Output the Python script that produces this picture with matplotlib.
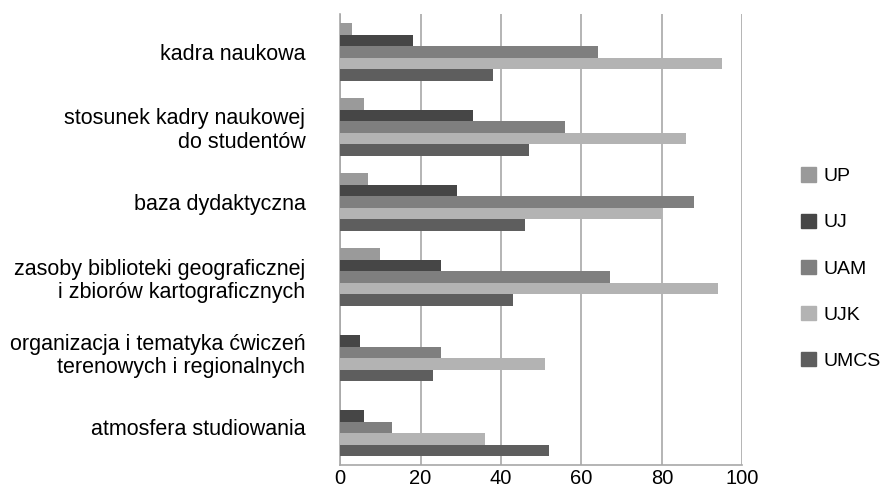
import numpy as np
import matplotlib
matplotlib.use("Agg")
import matplotlib.pyplot as plt
from matplotlib.patches import Patch

plt.rcParams["font.family"] = ["Liberation Sans", "DejaVu Sans"]

# Dane
categories = [
    "kadra naukowa",
    "stosunek kadry naukowej\ndo studentów",
    "baza dydaktyczna",
    "zasoby biblioteki geograficznej\ni zbiorów kartograficznych",
    "organizacja i tematyka ćwiczeń\nterenowych i regionalnych",
    "atmosfera studiowania",
]
series_names = ["UP", "UJ", "UAM", "UJK", "UMCS"]
up = [3, 6, 7, 10, 0, 0]
uj = [18, 33, 29, 25, 5, 6]
uam = [64, 56, 88, 67, 25, 13]
ujk = [95, 86, 80, 94, 51, 36]
umcs = [38, 47, 46, 43, 23, 52]
x_ticks = [0, 20, 40, 60, 80, 100]

colors = ["#9a9a9a", "#464646", "#7f7f7f", "#b3b3b3", "#5e5e5e"]

fig = plt.figure(figsize=(8.88, 4.92), dpi=100)
ax = fig.add_axes([0.383, 0.055, 0.453, 0.916])

n = len(categories)
y = np.arange(n)[::-1].astype(float)
bar_h = 0.153
all_vals = [up, uj, uam, ujk, umcs]
for i, (vals, col) in enumerate(zip(all_vals, colors)):
    offs = (2 - i) * bar_h
    ax.barh(y + offs, vals, height=bar_h, color=col, edgecolor="none", zorder=3)

ax.set_xlim(0, 100)
ax.set_ylim(-0.5, n - 0.5)
ax.set_xticks(x_ticks)
ax.set_yticks(y)
ax.set_yticklabels(categories, fontsize=15.5, ha="right", multialignment="right",
                   linespacing=1.15)
ax.tick_params(axis="x", labelsize=14.5, length=0, pad=3)
ax.tick_params(axis="y", length=0, pad=25)
ax.grid(axis="x", color="#a8a8a8", linewidth=1.2, zorder=0)
for s in ["top", "right"]:
    ax.spines[s].set_visible(False)
ax.spines["left"].set_color("#a8a8a8")
ax.spines["bottom"].set_color("#a8a8a8")
ax.spines["left"].set_linewidth(1.2)
ax.spines["bottom"].set_linewidth(1.2)

handles = [Patch(color=c, label=s) for c, s in zip(colors, series_names)]
fig.legend(handles=handles, loc="center left", bbox_to_anchor=(0.887, 0.454),
           frameon=False, fontsize=14, labelspacing=1.45, borderpad=0.2,
           handlelength=0.75, handleheight=0.75, handletextpad=0.4)

fig.savefig("out.png", dpi=100)
